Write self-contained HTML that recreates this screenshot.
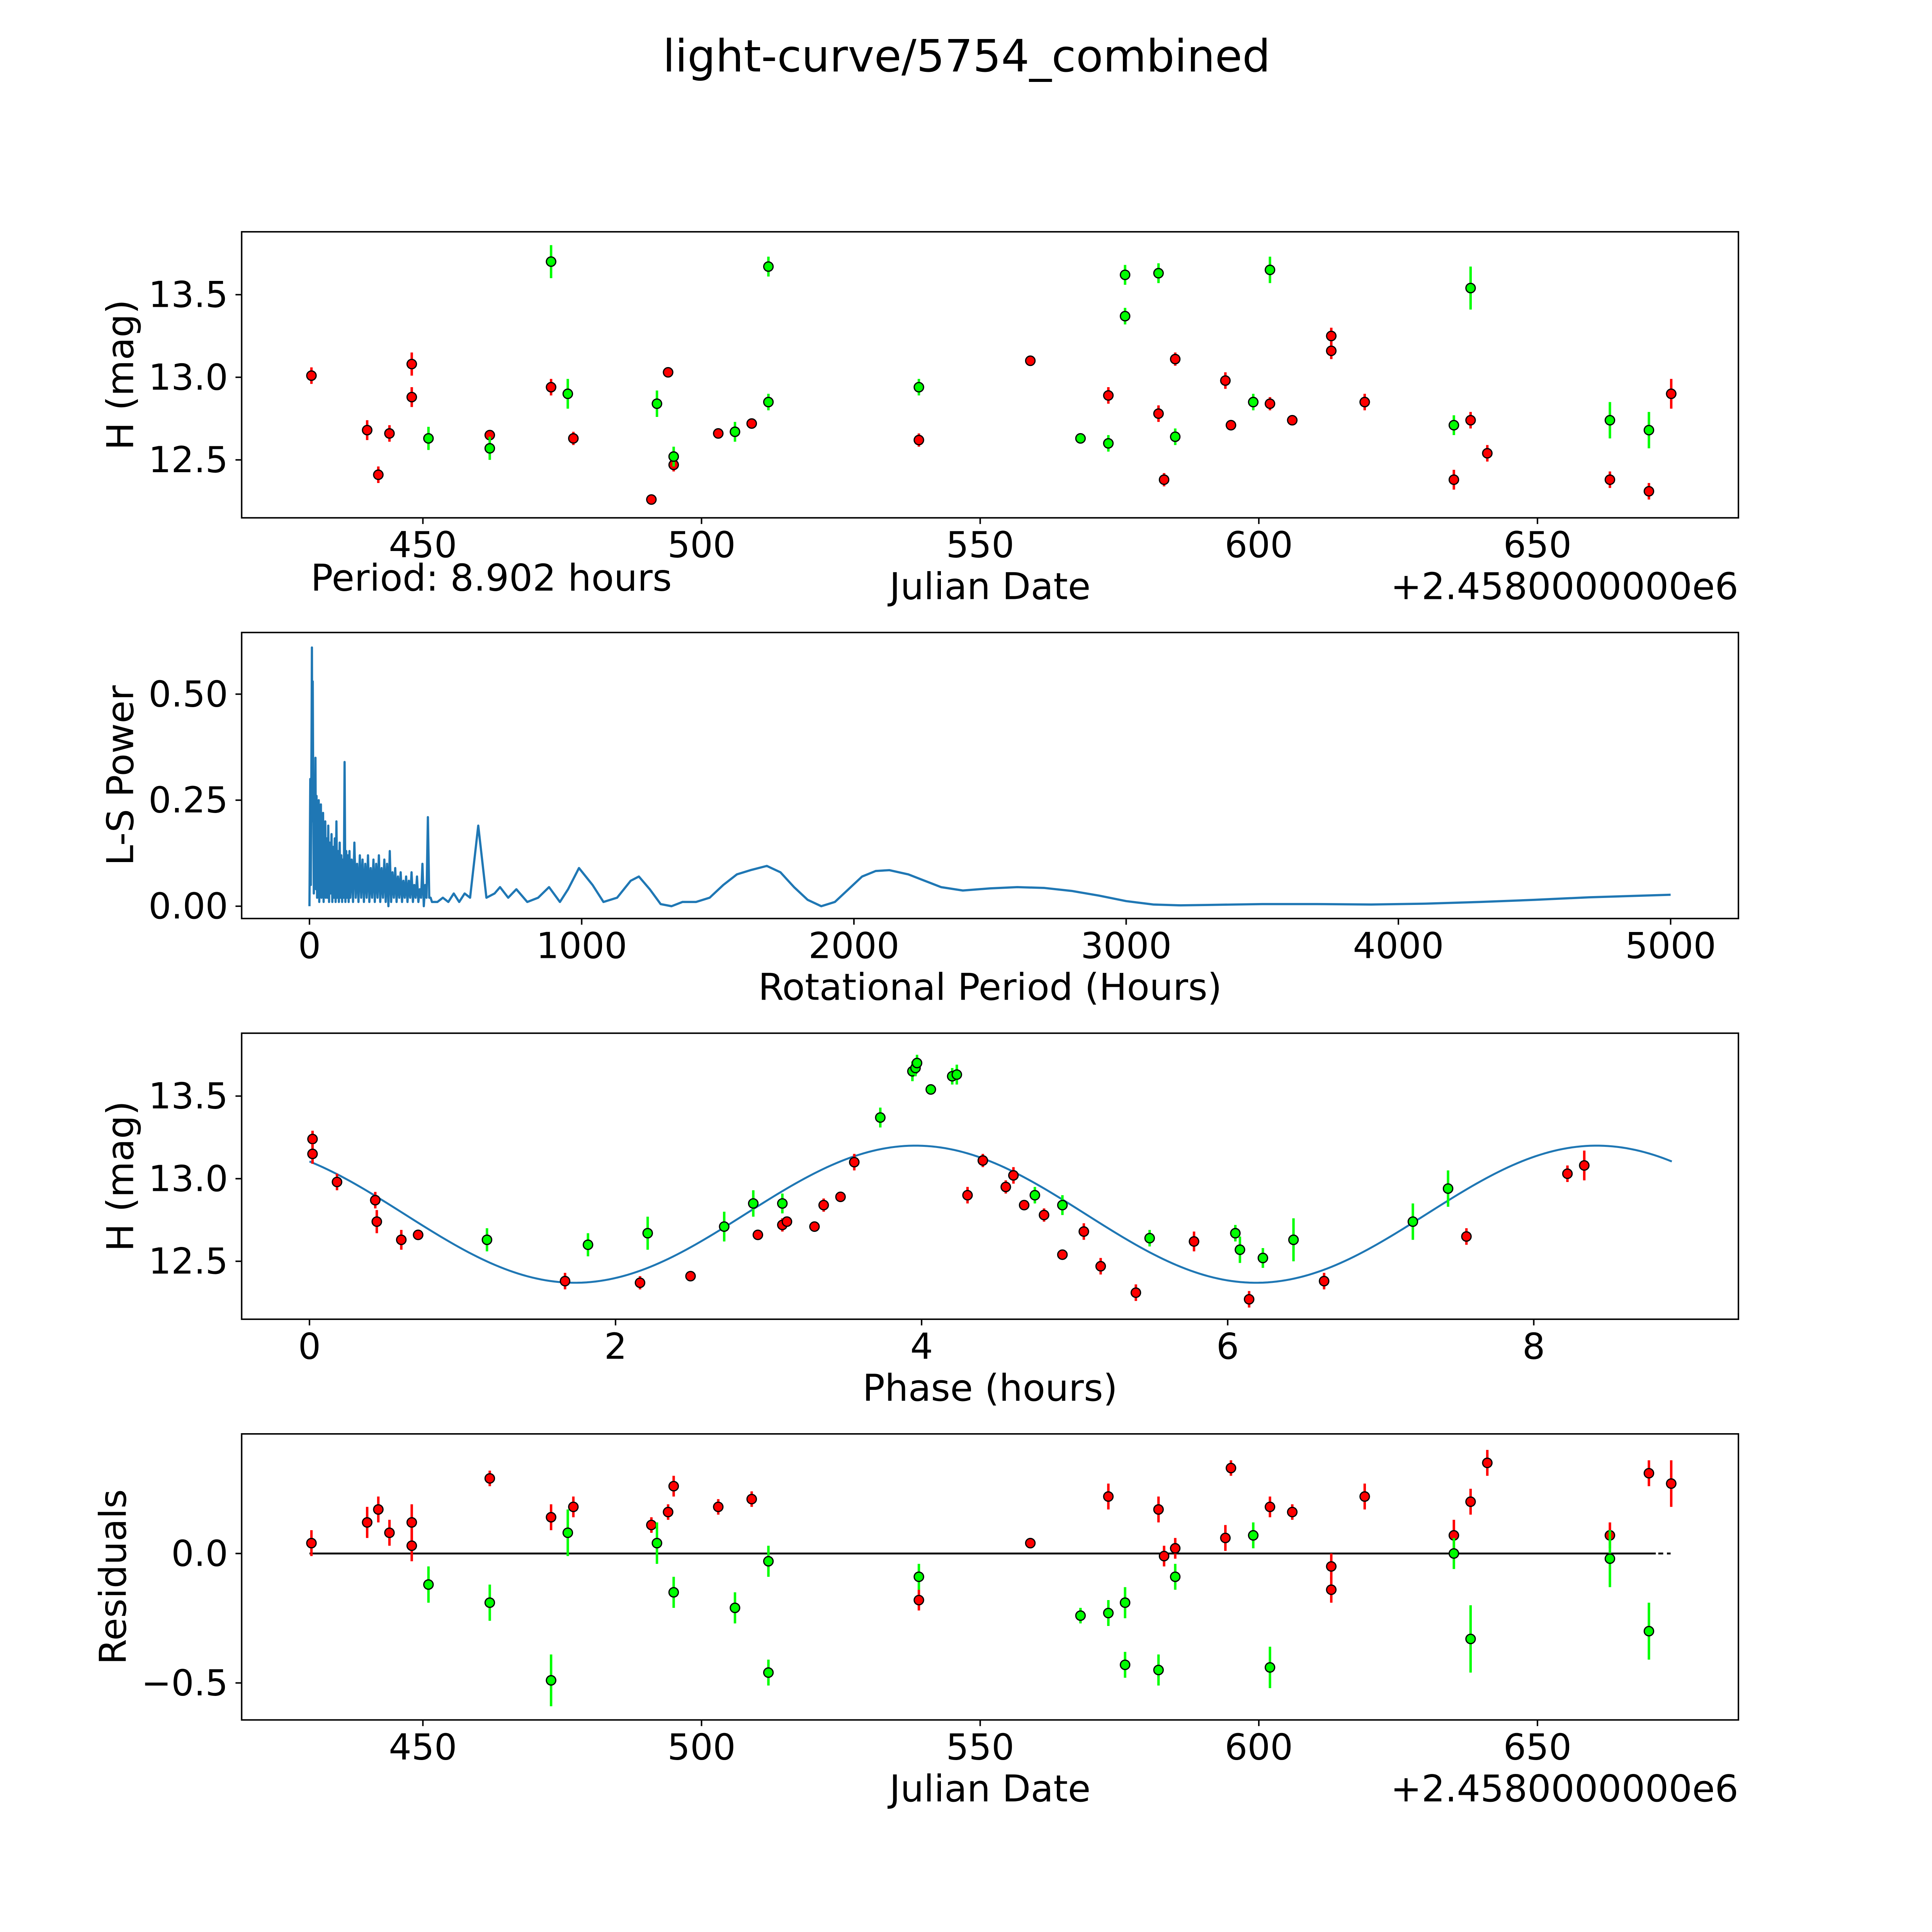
<!DOCTYPE html>
<html><head><meta charset="utf-8"><style>
html,body{margin:0;padding:0;background:#fff;overflow:hidden;width:100vw;height:100vh;}
svg{display:block;width:100vw;height:100vh;font-family:"DejaVu Sans","Liberation Sans",sans-serif;}
</style></head><body>
<svg id="fig" viewBox="0 0 1567 1567" preserveAspectRatio="none" xmlns="http://www.w3.org/2000/svg">
<rect width="1567" height="1567" fill="#fff"/>
<text x="784" y="58" font-size="36" text-anchor="middle">light-curve/5754_combined</text>
</svg>
<script>
// ---- data: raw light curve ----
const redDates=[430,440,442,444,448,448,462,473,477,491,494,495,503,509,539,559,573,582,583,585,594,595,602,606,613,613,619,635,638,641,663,670,674];
const redMags=[13.01,12.68,12.41,12.66,13.08,12.88,12.65,12.94,12.63,12.26,13.03,12.47,12.66,12.72,12.62,13.10,12.89,12.78,12.38,13.11,12.98,12.71,12.84,12.74,13.25,13.16,12.85,12.38,12.74,12.54,12.38,12.31,12.90];
const redErr=[0.05,0.06,0.05,0.05,0.07,0.06,0.03,0.05,0.04,0.03,0.03,0.04,0.03,0.03,0.04,0.02,0.05,0.05,0.04,0.04,0.05,0.03,0.04,0.03,0.05,0.05,0.05,0.06,0.05,0.05,0.05,0.05,0.09];
const greenDates=[451,462,473,476,492,495,506,512,512,539,568,573,576,576,582,585,599,602,635,638,663,670];
const greenMags=[12.63,12.57,13.70,12.90,12.84,12.52,12.67,13.67,12.85,12.94,12.63,12.60,13.62,13.37,13.63,12.64,12.85,13.65,12.71,13.54,12.74,12.68];
const greenErr=[0.07,0.07,0.10,0.09,0.08,0.06,0.06,0.06,0.05,0.05,0.03,0.05,0.06,0.05,0.06,0.05,0.05,0.08,0.06,0.13,0.11,0.11];
// ---- periodogram ----
const periods=[0,3,5,8,9,11,12,
14,16,18,20,22,24,26,28,30,32,34,36,38,40,42,44,46,48,50,52,54,56,58,60,
63,66,69,72,75,78,81,84,87,90,93,96,99,102,105,108,111,114,117,120,123,126,129,132,135,138,141,144,147,150,
155,160,165,170,175,180,185,190,195,200,205,210,215,220,225,230,235,240,245,250,255,260,265,270,275,280,285,290,295,300,
305,310,315,320,325,330,335,340,345,350,355,360,365,370,375,380,385,390,395,400,405,410,415,420,425,430,435,440,445,450,
470,490,510,530,550,570,590,620,650,680,700,730,760,800,840,880,920,950,990,1040,1080,1130,1180,1210,1250,1290,1330,1370,1420,1470,1520,1570,1620,1680,1730,1780,1830,1880,1930,1980,2030,2080,2130,2200,2260,2320,2400,2500,2600,2700,2800,2900,3000,3100,3200,3300,3500,3700,3900,4100,4300,4500,4700,5000];
const powers=[0,0.30,0.05,0.45,0.61,0.2,0.53,
0.25,0.03,0.28,0.05,0.35,0.04,0.26,0.02,0.22,0.05,0.25,0.01,0.2,0.04,0.24,0.02,0.18,0.03,0.22,0.01,0.17,0.04,0.2,0.02,
0.16,0.02,0.19,0.01,0.15,0.03,0.17,0.01,0.14,0.02,0.16,0.01,0.20,0.02,0.13,0.01,0.15,0.02,0.12,0.01,0.11,0.02,0.34,0.01,0.13,0.02,0.12,0.01,0.13,0.02,
0.11,0.01,0.15,0.02,0.10,0.01,0.12,0.02,0.11,0.01,0.10,0.02,0.12,0.01,0.09,0.02,0.11,0.01,0.10,0.02,0.12,0.01,0.09,0.02,0.11,0.01,0.10,0.0,0.13,0.01,
0.08,0.02,0.09,0.01,0.07,0.02,0.08,0.01,0.06,0.02,0.07,0.01,0.06,0.02,0.08,0.01,0.05,0.02,0.07,0.01,0.04,0.02,0.10,0.0,0.05,0.02,0.21,0.02,0.02,0.01,
0.01,0.02,0.01,0.03,0.01,0.03,0.02,0.19,0.02,0.03,0.045,0.02,0.04,0.01,0.02,0.045,0.01,0.04,0.09,0.05,0.01,0.02,0.06,0.07,0.04,0.005,0.0,0.01,0.01,0.02,0.05,0.075,0.085,0.095,0.08,0.045,0.015,0.0,0.01,0.04,0.07,0.083,0.085,0.075,0.06,0.045,0.037,0.042,0.045,0.043,0.036,0.025,0.012,0.004,0.002,0.003,0.005,0.005,0.004,0.006,0.01,0.015,0.021,0.027];
// ---- phased ----
const redPhase=[0.02,0.02,0.18,0.43,0.44,0.60,0.71,1.67,2.16,2.49,2.93,3.09,3.12,3.30,3.36,3.47,3.56,4.30,4.40,4.55,4.60,4.67,4.80,4.92,5.06,5.17,5.40,5.78,6.14,6.63,7.56,8.22,8.33];
const redPhaseMag=[13.24,13.15,12.98,12.87,12.74,12.63,12.66,12.38,12.37,12.41,12.66,12.72,12.74,12.71,12.84,12.89,13.10,12.90,13.11,12.95,13.02,12.84,12.78,12.54,12.68,12.47,12.31,12.62,12.27,12.38,12.65,13.03,13.08];
const greenPhase=[1.16,1.82,2.21,2.71,2.90,3.09,3.73,3.94,3.96,3.97,4.06,4.20,4.23,4.74,4.92,5.49,6.05,6.08,6.23,6.43,7.21,7.44];
const greenPhaseMag=[12.63,12.60,12.67,12.71,12.85,12.85,13.37,13.65,13.67,13.70,13.54,13.62,13.63,12.90,12.84,12.64,12.67,12.57,12.52,12.63,12.74,12.94];
const modelMean=12.785, modelAmp=0.415, modelPeak=3.96, modelHalfPeriod=4.451, modelEnd=8.902;
// ---- residuals ----
const redResid=[0.04,0.12,0.17,0.08,0.12,0.03,0.29,0.14,0.18,0.11,0.16,0.26,0.18,0.21,-0.18,0.04,0.22,0.17,-0.01,0.02,0.06,0.33,0.18,0.16,-0.05,-0.14,0.22,0.07,0.20,0.35,0.07,0.31,0.27];
const greenResid=[-0.12,-0.19,-0.49,0.08,0.04,-0.15,-0.21,-0.03,-0.46,-0.09,-0.24,-0.23,-0.19,-0.43,-0.45,-0.09,0.07,-0.44,0.00,-0.33,-0.02,-0.30];
const jdTicks=[450,500,550,600,650];
const magTicks=[12.5,13.0,13.5];
const powTicks=[0,0.25,0.5];
const perTicks=[0,1000,2000,3000,4000,5000];
const phaseTicks=[0,2,4,6,8];
const resTicks=[-0.5,0.0];

const NS="http://www.w3.org/2000/svg";
const fig=document.getElementById('fig');
function mk(tag,attrs,parent){const e=document.createElementNS(NS,tag);for(const k in attrs)e.setAttribute(k,attrs[k]);(parent||fig).appendChild(e);return e;}
function lin(d0,d1,p0,p1){return v=>p0+(v-d0)*(p1-p0)/(d1-d0);}
const X0=196,X1=1410;
const TF=29, LF=30;
const fmtM=v=>v.toFixed(1);
function axes(name,top,bot,xs,ys,xt,yt,xfmt,yfmt){
  const g=mk('g',{});
  
  
  const r=mk('rect',{x:X0,y:top,width:X1-X0,height:bot-top,fill:'none',stroke:'#000','stroke-width':1.2},g);
  
  
  xt.forEach(v=>{const x=xs(v);mk('line',{x1:x,x2:x,y1:bot,y2:bot+5,stroke:'#000','stroke-width':1.2},g);
    const t=mk('text',{x:x,y:bot+32,'font-size':TF,'text-anchor':'middle'},g);t.textContent=xfmt(v);
    
    });
  yt.forEach(v=>{const y=ys(v);mk('line',{x1:X0,x2:X0-5,y1:y,y2:y,stroke:'#000','stroke-width':1.2},g);
    const t=mk('text',{x:X0-11,y:y+10,'font-size':TF,'text-anchor':'end'},g);t.textContent=yfmt(v);
    
    });
  return g;
}
function label(txt,x,y,rot,name){const t=mk('text',{x:x,y:y,'font-size':LF,'text-anchor':'middle',transform:rot?`rotate(-90 ${x} ${y})`:''});t.textContent=txt;
  
  return t;}
function pts(g,xarr,yarr,err,xs,ys,col,escale,name){
  xarr.forEach((xv,i)=>{const x=xs(xv),y=ys(yarr[i]);
    if(err){const e=err[i]*escale;mk('line',{x1:x,x2:x,y1:y-e,y2:y+e,stroke:col,'stroke-width':2},g);}
    const c=mk('circle',{cx:x,cy:y,r:3.8,fill:col,stroke:'#000','stroke-width':1},g);
    
    });
}
const minus=s=>s.replace('-','\u2212');
// Panel 1
const jx=lin(450,650,343,1247);
const my1=lin(12.5,13.5,373,239);
const g1=axes('light-curve-panel',188,420,jx,my1,jdTicks,magTicks,v=>String(v),fmtM);
pts(g1,redDates,redMags,redErr,jx,my1,'#ff0000',134,'red-point');
pts(g1,greenDates,greenMags,greenErr,jx,my1,'#00ff00',134,'green-point');
label('H (mag)',108,304,true,'y-axis-title-mag');
label('Julian Date',803,486,false,'x-axis-title-jd');
let t=mk('text',{x:1410,y:486,'font-size':LF,'text-anchor':'end'});t.textContent='+2.4580000000e6';


t=mk('text',{x:252,y:479,'font-size':LF});t.textContent='Period: 8.902 hours';


// Panel 2
const px=lin(0,5000,251,1355);
const py=lin(0,0.5,735,563);
const g2=axes('periodogram-panel',513,745,px,py,perTicks,powTicks,v=>String(v),v=>v.toFixed(2));
const pl=mk('polyline',{points:periods.map((p,i)=>px(p)+','+py(powers[i])).join(' '),fill:'none',stroke:'#1f77b4','stroke-width':1.8,'stroke-linejoin':'round'},g2);


label('L-S Power',108,629,true,'y-axis-title-power');
label('Rotational Period (Hours)',803,811,false,'x-axis-title-period');
// Panel 3
const fx=lin(0,8,251,1244);
const fy=lin(12.5,13.5,1023,889);
const g3=axes('phase-panel',838,1070,fx,fy,phaseTicks,magTicks,v=>String(v),fmtM);
const mp=[];for(let i=0;i<=300;i++){const x=modelEnd*i/300;mp.push(fx(x)+','+fy(modelMean+modelAmp*Math.cos(2*Math.PI*(x-modelPeak)/modelHalfPeriod)));}
const ml=mk('polyline',{points:mp.join(' '),fill:'none',stroke:'#1f77b4','stroke-width':1.6},g3);


pts(g3,redPhase,redPhaseMag,redErr,fx,fy,'#ff0000',134,'red-phase-point');
pts(g3,greenPhase,greenPhaseMag,greenErr,fx,fy,'#00ff00',134,'green-phase-point');
label('H (mag)',108,954,true,'y-axis-title-mag-phase');
label('Phase (hours)',803,1136,false,'x-axis-title-phase');
// Panel 4
const ry=lin(0,-0.5,1260,1365);
const g4=axes('residual-panel',1163,1395,jx,ry,jdTicks,resTicks,v=>String(v),v=>minus(v.toFixed(1)));
const zl=mk('line',{x1:251,x2:1343,y1:ry(0),y2:ry(0),stroke:'#000','stroke-width':1.5},g4);


mk('line',{x1:1345,x2:1355,y1:ry(0),y2:ry(0),stroke:'#000','stroke-width':1.5,'stroke-dasharray':'4,3'},g4);
pts(g4,redDates,redResid,redErr,jx,ry,'#ff0000',210,'red-residual');
pts(g4,greenDates,greenResid,greenErr,jx,ry,'#00ff00',210,'green-residual');
label('Residuals',102,1279,true,'y-axis-title-residuals');
label('Julian Date',803,1461,false,'x-axis-title-jd-residuals');
t=mk('text',{x:1410,y:1461,'font-size':LF,'text-anchor':'end'});t.textContent='+2.4580000000e6';


</script>
</body></html>
